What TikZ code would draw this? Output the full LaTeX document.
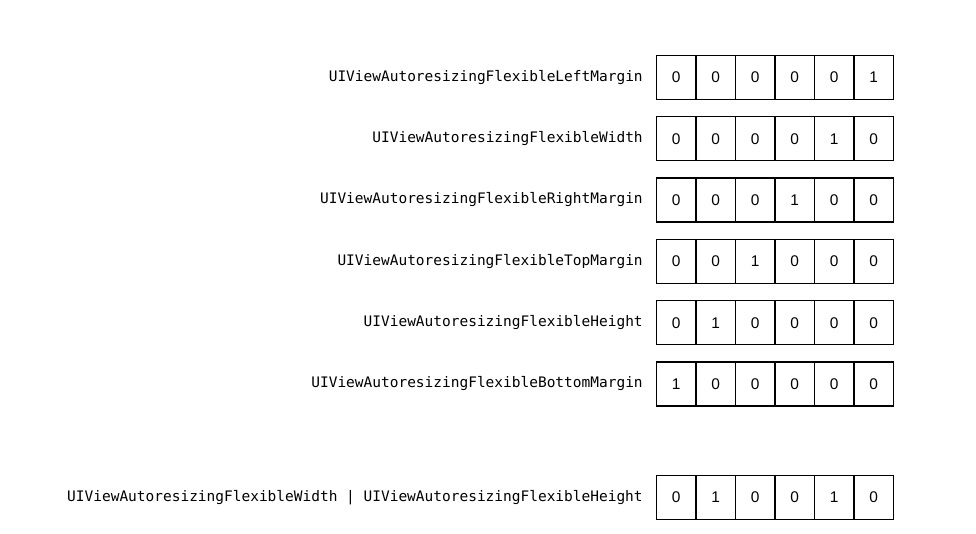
\documentclass[tikz,border=0pt]{standalone}
\usepackage{fontspec}
\setmainfont{Liberation Sans}
\newfontfamily\codefont{DejaVu Sans Mono}
\usetikzlibrary{positioning}

\tikzset{
  masklabel/.style={anchor=east, inner sep=0pt, font=\codefont\fontsize{10.3}{12}\selectfont},
  bitcell/.style={draw, line width=0.9pt, minimum width=39.5*0.025cm, minimum height=44*0.025cm,
    inner sep=0pt, font=\fontsize{11}{13}\selectfont}
}

\begin{document}
\begin{tikzpicture}[x=0.025cm,y=-0.025cm]
\useasboundingbox (0,0) rectangle (976,534);
% one row per flag, bits read left to right
\foreach \name/\bits/\y [count=\r] in {
  UIViewAutoresizingFlexibleLeftMargin/{0,0,0,0,0,1}/77.5,
  UIViewAutoresizingFlexibleWidth/{0,0,0,0,1,0}/138.8,
  UIViewAutoresizingFlexibleRightMargin/{0,0,0,1,0,0}/200,
  UIViewAutoresizingFlexibleTopMargin/{0,0,1,0,0,0}/261.4,
  UIViewAutoresizingFlexibleHeight/{0,1,0,0,0,0}/322.7,
  UIViewAutoresizingFlexibleBottomMargin/{1,0,0,0,0,0}/384,
  UIViewAutoresizingFlexibleWidth | UIViewAutoresizingFlexibleHeight/{0,1,0,0,1,0}/497.5}{
  \node[masklabel] (flag\r) at (643,\y) {\name};
  \foreach \b [count=\i] in \bits
    \node[bitcell] (bit\r-\i) at ({656.5+39.5*(\i-0.5)},\y) {\b};
}
\end{tikzpicture}
\end{document}
